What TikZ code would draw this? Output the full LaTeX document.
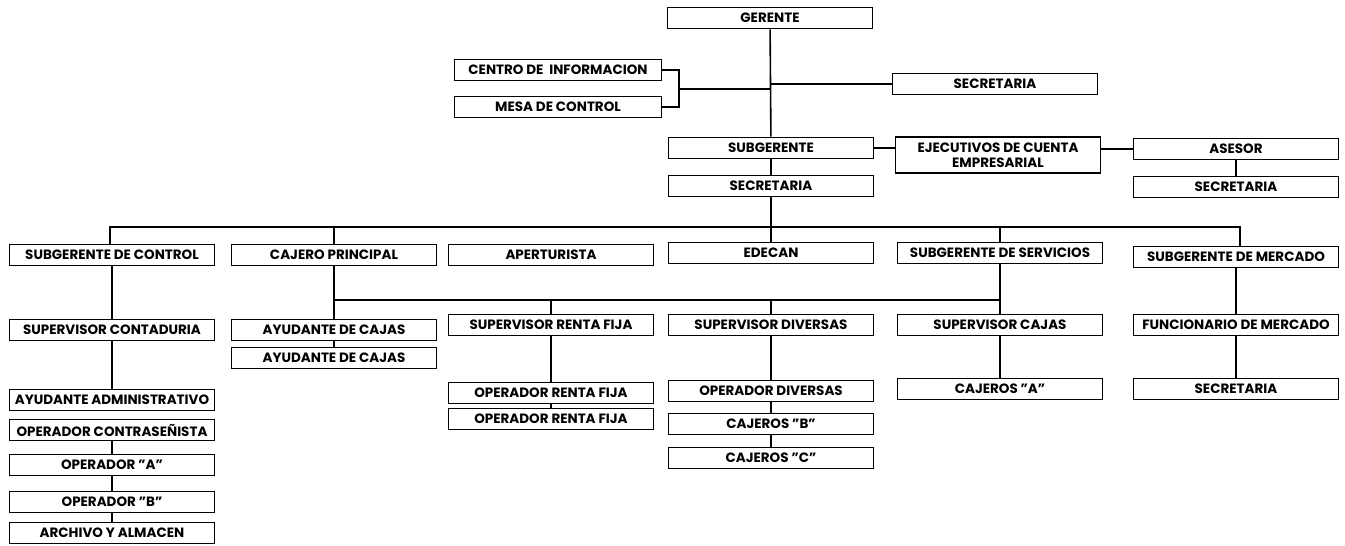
\documentclass[tikz,border=0pt]{standalone}
\usepackage{fontspec}
\setmainfont{Poppins}
\usepackage{tikz}

\begin{document}
\begin{tikzpicture}[x=1pt,y=-1pt,
    puesto/.style={draw,line width=1.8pt,fill=white,minimum width=205pt,minimum height=21pt,
        inner sep=1pt,font=\fontsize{13.5}{15}\selectfont\bfseries,align=center},
    linea/.style={line width=1.6pt}]
        \useasboundingbox (0,0) rectangle (1345,546);
        % direccion
        \node[puesto] (gerente) at (770,18) {GERENTE};
        \node[puesto,minimum width=207pt] (centro) at (558,70) {CENTRO DE\ \ INFORMACION};
        \node[puesto,minimum width=207pt] (mesa) at (558,107) {MESA DE CONTROL};
        \node[puesto] (secre1) at (995,84) {SECRETARIA};
        \node[puesto] (subger) at (771,148) {SUBGERENTE};
        \node[puesto] (secre2) at (771,186) {SECRETARIA};
        \node[puesto,minimum height=36pt] (ejec) at (998,155) {EJECUTIVOS DE CUENTA\\EMPRESARIAL};
        \node[puesto] (asesor) at (1236,149) {ASESOR};
        \node[puesto] (secre3) at (1236,187) {SECRETARIA};
        % segundo nivel
        \node[puesto] (subctrl) at (112,255) {SUBGERENTE DE CONTROL};
        \node[puesto] (cajero) at (334,255) {CAJERO PRINCIPAL};
        \node[puesto] (apert) at (551,255) {APERTURISTA};
        \node[puesto] (edecan) at (771,253) {EDECAN};
        \node[puesto] (subserv) at (1000,253) {SUBGERENTE DE SERVICIOS};
        \node[puesto] (submerc) at (1236,257) {SUBGERENTE DE MERCADO};
        % control
        \node[puesto] (supcont) at (112,330) {SUPERVISOR CONTADURIA};
        \node[puesto] (ayudadm) at (112,400) {AYUDANTE ADMINISTRATIVO};
        \node[puesto] (opcontra) at (112,430) {OPERADOR CONTRASEÑISTA};
        \node[puesto] (opA) at (112,465) {OPERADOR "A"};
        \node[puesto] (opB) at (112,502) {OPERADOR "B"};
        \node[puesto] (archivo) at (112,533) {ARCHIVO Y ALMACEN};
        % cajas
        \node[puesto] (ayud1) at (334,330) {AYUDANTE DE CAJAS};
        \node[puesto] (ayud2) at (334,358) {AYUDANTE DE CAJAS};
        \node[puesto] (suprf) at (551,325) {SUPERVISOR RENTA FIJA};
        \node[puesto] (oprf1) at (551,393) {OPERADOR RENTA FIJA};
        \node[puesto] (oprf2) at (551,419) {OPERADOR RENTA FIJA};
        \node[puesto] (supdiv) at (771,325) {SUPERVISOR DIVERSAS};
        \node[puesto] (opdiv) at (771,391) {OPERADOR DIVERSAS};
        \node[puesto] (cajB) at (771,424) {CAJEROS "B"};
        \node[puesto] (cajC) at (771,458) {CAJEROS "C"};
        \node[puesto] (supcaj) at (1000,325) {SUPERVISOR CAJAS};
        \node[puesto] (cajA) at (1000,389) {CAJEROS "A"};
        % mercado
        \node[puesto] (funcmerc) at (1236,325) {FUNCIONARIO DE MERCADO};
        \node[puesto] (secre4) at (1236,389) {SECRETARIA};
        % puntos de union
        \coordinate (j1) at (771,84);
        \coordinate (j2) at (771,89);
        \coordinate (br) at (679,89);
        \coordinate (t1) at (110,227);
        \coordinate (t2) at (1240,227);
        \coordinate (m1) at (334,300);
        % lineas
        \draw[linea] (gerente) -- (subger);
        \draw[linea] (subger) -- (secre2);
        \draw[linea] (secre2) -- (edecan);
        \draw[linea] (j1) -- (secre1);
        \draw[linea] (j2) -- (br);
        \draw[linea] (centro.east) -| (br) |- (mesa.east);
        \draw[linea] (subger.east) -- (subger.east -| ejec.west);
        \draw[linea] (asesor.west) -- (asesor.west -| ejec.east);
        \draw[linea] (asesor) -- (secre3);
        \draw[linea] (subctrl.north -| t1) -- (t1) -- (t2) -- (submerc.north -| t2);
        \draw[linea] (cajero) -- (cajero.north |- t1);
        \draw[linea] (subserv) -- (subserv.north |- t1);
        \draw[linea] (m1) -- (subserv.south |- m1);
        \draw[linea] (suprf) -- (suprf.north |- m1);
        \draw[linea] (supdiv) -- (supdiv.north |- m1);
        \draw[linea] (subctrl) -- (supcont);
        \draw[linea] (supcont) -- (ayudadm);
        \draw[linea] (opcontra) -- (opA);
        \draw[linea] (opA) -- (opB);
        \draw[linea] (opB) -- (archivo);
        \draw[linea] (cajero) -- (ayud1);
        \draw[linea] (ayud1) -- (ayud2);
        \draw[linea] (suprf) -- (oprf1);
        \draw[linea] (oprf1) -- (oprf2);
        \draw[linea] (supdiv) -- (opdiv);
        \draw[linea] (opdiv) -- (cajB);
        \draw[linea] (cajB) -- (cajC);
        \draw[linea] (subserv) -- (supcaj);
        \draw[linea] (supcaj) -- (cajA);
        \draw[linea] (submerc) -- (funcmerc);
        \draw[linea] (funcmerc) -- (secre4);
\end{tikzpicture}
\end{document}
